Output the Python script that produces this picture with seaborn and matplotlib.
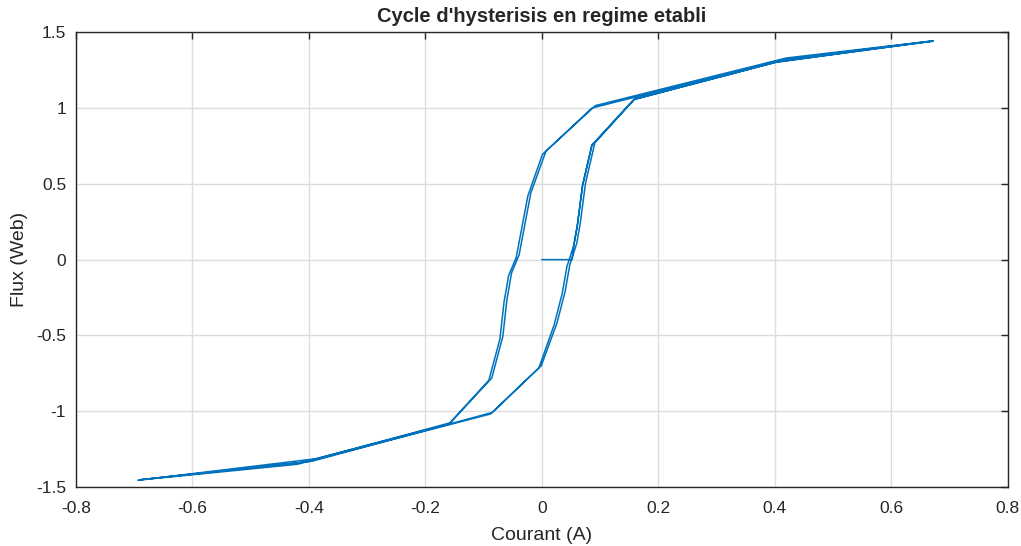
import numpy as np
import pandas as pd
import matplotlib
matplotlib.use('Agg')
import matplotlib.pyplot as plt
import matplotlib.ticker as mticker
import seaborn as sns

# ── data ─────────────────────────────────────────────────────
# first magnetisation + rise to positive saturation
X_RISE0 = [0.0, 0.052, 0.055, 0.061, 0.070, 0.086, 0.158, 0.400, 0.672]
Y_RISE0 = [0.0, 0.0, 0.096, 0.227, 0.491, 0.755, 1.056, 1.300, 1.443]
# descending branches (two cycles)
X_DESC1 = [0.672, 0.420, 0.092, 0.007, -0.019, -0.039, -0.052, -0.060, -0.067, -0.086, -0.157, -0.385, -0.694]
Y_DESC1 = [1.443, 1.330, 1.016, 0.715, 0.438, 0.032, -0.088, -0.265, -0.507, -0.781, -1.076, -1.312, -1.455]
X_DESC2 = [0.670, 0.412, 0.086, 0.001, -0.024, -0.044, -0.057, -0.065, -0.072, -0.091, -0.160, -0.415, -0.690]
Y_DESC2 = [1.440, 1.316, 1.000, 0.694, 0.420, 0.015, -0.105, -0.282, -0.524, -0.796, -1.085, -1.340, -1.452]
# ascending branches (two cycles)
X_ASC1 = [-0.694, -0.420, -0.088, -0.005, 0.021, 0.035, 0.043, 0.055, 0.061, 0.070, 0.086, 0.158, 0.405, 0.670]
Y_ASC1 = [-1.455, -1.350, -1.018, -0.713, -0.432, -0.223, -0.047, 0.096, 0.227, 0.491, 0.755, 1.056, 1.305, 1.440]
X_ASC2 = [-0.690, -0.395, -0.085, -0.001, 0.026, 0.040, 0.048, 0.060, 0.066, 0.075, 0.091, 0.162, 0.412, 0.672]
Y_ASC2 = [-1.452, -1.330, -1.008, -0.700, -0.418, -0.210, -0.035, 0.108, 0.240, 0.505, 0.770, 1.070, 1.318, 1.443]

XTICKS = [-0.8, -0.6, -0.4, -0.2, 0, 0.2, 0.4, 0.6, 0.8]
YTICKS = [-1.5, -1, -0.5, 0, 0.5, 1, 1.5]

courant = X_RISE0 + X_DESC1 + X_ASC1 + X_DESC2 + X_ASC2
flux = Y_RISE0 + Y_DESC1 + Y_ASC1 + Y_DESC2 + Y_ASC2
df = pd.DataFrame({'Courant (A)': courant, 'Flux (Web)': flux})

# ── style ─────────────────────────────────────────────────────
sns.set_style('white')
plt.rcParams['font.family'] = ['Liberation Sans', 'DejaVu Sans']

fig = plt.figure(figsize=(10.21, 5.46), dpi=100)
ax = fig.add_axes([0.0744, 0.108, 0.9126, 0.833])

sns.lineplot(data=df, x='Courant (A)', y='Flux (Web)', sort=False, estimator=None,
             color='#0072BD', linewidth=1.1, ax=ax)

ax.set_xlim(-0.8, 0.8)
ax.set_ylim(-1.5, 1.5)
ax.set_xticks(XTICKS)
ax.set_yticks(YTICKS)
fmt = mticker.FuncFormatter(lambda v, p: f'{v:g}')
ax.xaxis.set_major_formatter(fmt)
ax.yaxis.set_major_formatter(fmt)
ax.grid(True, color='#dcdcdc', linewidth=1.0)
ax.set_axisbelow(True)
ax.tick_params(direction='in', length=5, width=1, color='#262626', labelsize=12.5,
               labelcolor='#262626', top=True, right=True, pad=7)
ax.tick_params(axis='x', pad=10)
for s in ax.spines.values():
    s.set_color('#262626')
    s.set_linewidth(1.0)

ax.set_xlabel('Courant (A)', fontsize=14, color='#262626', labelpad=8)
ax.set_ylabel('Flux (Web)', fontsize=14, color='#262626', labelpad=6)
ax.set_title("Cycle d'hysterisis en regime etabli", fontsize=14.5, fontweight='bold', pad=7)

fig.savefig('out.png', dpi=100)
plt.close()
